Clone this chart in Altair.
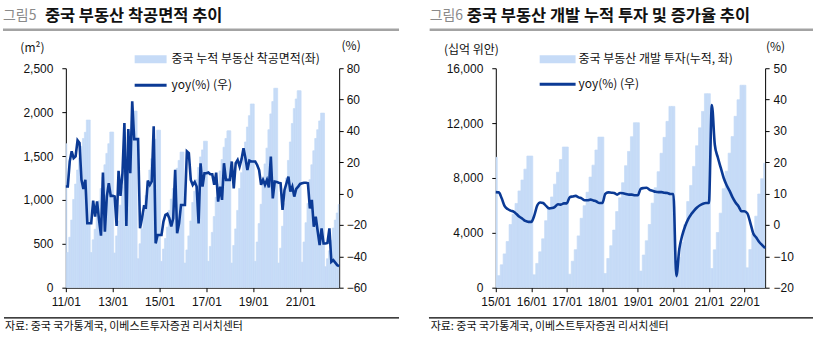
import json
import altair as alt
import pandas as pd

# ---------------- data ----------------
# Figure 5: cumulative new-construction area (m², left) and yoy % (right), monthly 2011-01 .. 2022-09
area_labels = ["11/01", "13/01", "15/01", "17/01", "19/01", "21/01"]
area_cum = [
    1640, 400, 575, 770, 1005, 1180, 1340, 1480, 1610, 1700, 1770, 1910,
    1910, 400, 545, 665, 820, 990, 1130, 1260, 1400, 1530, 1640, 1773,
    1773, 395, 590, 760, 940, 1150, 1330, 1490, 1640, 1780, 1900, 2012,
    2012, 330, 500, 670, 840, 1050, 1200, 1340, 1470, 1590, 1690, 1795,
    1795, 300, 440, 560, 690, 880, 1010, 1130, 1250, 1360, 1450, 1545,
    1545, 280, 430, 590, 760, 970, 1100, 1230, 1370, 1490, 1570, 1669,
    1669, 300, 470, 630, 810, 1030, 1180, 1330, 1460, 1600, 1700, 1787,
    1787, 280, 480, 670, 880, 1130, 1310, 1480, 1660, 1830, 1960, 2093,
    2093, 300, 520, 730, 950, 1220, 1410, 1590, 1800, 1980, 2120, 2272,
    2272, 280, 450, 700, 960, 1250, 1450, 1660, 1870, 2040, 2150, 2244,
    2244, 290, 520, 740, 960, 1230, 1400, 1560, 1700, 1800, 1900, 1989,
    1989, 240, 330, 420, 540, 680, 770, 851, 948,
]
area_yoy = [
    4.6, 4.6, 20.6, 27.0, 22.7, 23.8, 34.0, 32.3, 8.8, 2.9, 8.8, -18.9,
    -18.9, -18.9, -4.4, -14.6, -5.0, -16.8, -26.8, 13.5, -24.2, -1.8, 6.7, -1.4,
    -1.4, -1.8, -20.6, 14.6, -1.4, 13.1, 45.0, -20.6, 41.2, 13.1, 58.9, 34.8,
    34.8, 34.8, -22.1, -15.7, -8.2, -8.7, 8.4, 5.6, 7.8, 43.0, -31.7, -26.4,
    -26.4, -26.4, -17.8, -13.6, -12.9, -15.7, -21.0, -15.7, 15.2, -25.3, -18.9, -7.2,
    -7.2, -7.2, 27.0, 25.9, 8.8, 5.6, 7.5, 4.5, -19.0, 19.4, 4.5, 13.0,
    13.0, 13.5, 12.4, 12.4, 5.6, 13.4, -5.1, 4.5, -4.0, 19.4, 8.8, 8.8,
    8.8, 20.5, 3.4, 19.4, 21.5, 17.3, 22.0, 29.0, 22.6, 15.1, 21.1, 20.5,
    20.5, 20.5, 18.3, 15.0, 5.6, 8.8, 5.6, 8.8, 4.0, 23.7, -3.0, 7.7,
    7.5, 7.0, 6.6, -10.4, 2.4, 6.6, 10.9, 1.3, 4.5, -1.9, 3.0, 4.5,
    6.2, 6.6, 7.0, 7.0, 6.6, -9.4, -4.0, -21.1, -14.7, -24.0, -32.8, -22.2,
    -31.8, -31.8, -31.5, -22.2, -43.5, -42.4, -44.0, -45.6, -46.3,
]

# Figure 6: cumulative development investment (bn yuan, left) and yoy % (right), monthly 2015-01 .. 2022-08
inv_labels = ["15/01", "16/01", "17/01", "18/01", "19/01", "20/01", "21/01", "22/01"]
inv_cum = [
    9504, 879, 1666, 2466, 3366, 4601, 5358, 6142, 7054, 7848, 8643, 9598,
    9598, 939, 1768, 2613, 3563, 4883, 5739, 6615, 7551, 8418, 9339, 10258,
    10258, 985, 1929, 2773, 3778, 5061, 5976, 6959, 8064, 8933, 10039, 10980,
    10980, 1029, 2129, 3059, 4201, 5553, 6553, 7652, 8895, 9933, 11008, 12026,
    12026, 1209, 2380, 3422, 4608, 6161, 7284, 8459, 9801, 10960, 12127, 13219,
    13219, 1012, 2196, 3310, 4592, 6278, 7456, 8845, 10348, 11656, 12849, 14144,
    14144, 1399, 2758, 4024, 5432, 7218, 8490, 9806, 11015, 12493, 13702, 14760,
    14760, 1450, 2777, 3915, 5213, 6831, 7946, 9081,
]
inv_yoy = [
    10.5, 10.4, 8.5, 6.0, 5.1, 4.6, 4.3, 3.5, 2.6, 2.0, 1.3, 1.0,
    1.0, 3.0, 6.2, 7.2, 7.0, 6.1, 5.3, 5.4, 5.8, 6.6, 6.5, 6.9,
    6.9, 8.9, 9.1, 9.3, 8.8, 8.5, 7.9, 7.9, 8.1, 7.8, 7.5, 7.0,
    7.0, 9.9, 10.4, 10.3, 10.2, 9.7, 10.2, 10.1, 9.9, 9.7, 9.7, 9.5,
    9.5, 11.6, 11.8, 11.9, 11.2, 10.9, 10.6, 10.5, 10.5, 10.3, 10.2, 9.9,
    9.9, -16.3, -7.7, -3.3, -0.3, 1.9, 3.4, 4.6, 5.6, 6.3, 6.8, 7.0,
    7.0, 38.3, 25.6, 21.6, 18.3, 15.0, 12.7, 10.9, 8.8, 7.2, 6.0, 4.4,
    4.4, 3.7, 0.7, -2.7, -4.0, -5.4, -6.4, -7.4,
]

# ---------------- style ----------------
BAR = "#C6DBF7"
LINE = "#0B3A95"
NUM_FONT = "Liberation Sans Narrow, Arial Narrow, Liberation Sans, Arial, sans-serif"
KR_FONT = "Noto Sans CJK KR, Noto Sans, sans-serif"
H = 220


def one(s=""):
    return pd.DataFrame({"t": [s]})


def text(s, x, y, size, color="#111111", weight="normal", align="left"):
    return alt.Chart(one(s)).mark_text(
        align=align, baseline="middle", font=KR_FONT, fontSize=size,
        fontWeight=weight, color=color,
    ).encode(x=alt.value(x), y=alt.value(y), text="t:N")


def hrule(x1, x2, y, color, width):
    return alt.Chart(one()).mark_rule(color=color, strokeWidth=width).encode(
        x=alt.value(x1), x2=alt.value(x2), y=alt.value(y))


def box(x1, x2, y1, y2, color, opacity=1.0):
    return alt.Chart(one()).mark_rect(color=color, opacity=opacity).encode(
        x=alt.value(x1), x2=alt.value(x2), y=alt.value(y1), y2=alt.value(y2))


def panel(cum, yoy, labels, step, ymax, lticks, rdom, rticks, interp, lpad_right):
    n = len(cum)
    df = pd.DataFrame({"i": list(range(n)), "cum": cum, "yoy": yoy})
    df["lo"] = df["i"] - 0.5
    df["hi"] = df["i"] + 0.5
    xscale = alt.Scale(domain=[0, n - 1], nice=False, zero=False)
    xaxis = alt.Axis(
        values=[k * step for k in range(len(labels))],
        labelExpr=json.dumps(labels) + f"[round(datum.value/{step})]",
        title=None, labelPadding=5, labelFlush=False, labelOverlap=False,
    )
    bars = alt.Chart(df).mark_rect(fill=BAR, stroke=BAR, strokeWidth=0.7, clip=True).encode(
        x=alt.X("lo:Q", scale=xscale, axis=xaxis),
        x2="hi:Q",
        y=alt.Y("cum:Q", scale=alt.Scale(domain=[0, ymax], nice=False),
                axis=alt.Axis(values=lticks, format=",d", title=None, orient="left",
                              labelPadding=9)),
        y2=alt.datum(0),
    )
    line = alt.Chart(df).mark_line(color=LINE, strokeWidth=2.6, interpolate=interp).encode(
        x=alt.X("i:Q", scale=xscale, axis=xaxis),
        y=alt.Y("yoy:Q", scale=alt.Scale(domain=rdom, nice=False, zero=False),
                axis=alt.Axis(values=rticks, format="d", title=None, orient="right",
                              labelPadding=lpad_right)),
    )
    return bars, line


SRC = "자료: 중국 국가통계국, 이베스트투자증권 리서치센터"

# ---------------- left panel (그림5) ----------------
lb, ll = panel(area_cum, area_yoy, area_labels, 24, 2500,
               list(range(0, 2501, 500)), [-60, 80], list(range(-60, 81, 20)),
               "linear", 3)
left = alt.layer(
    lb, ll,
    box(-66, -65, -68, -67, "#ffffff", 0.0),
    text("그림5", -63, -52.5, 14, color="#8a8a8a"),
    text("중국 부동산 착공면적 추이", -21, -52.5, 16.5, weight="bold"),
    hrule(-63, 334, -38.5, "#a3a3a3", 2.5),
    text("(m²)", -33.5, -20, 12, align="center"),
    text("(%)", 286, -22, 12, align="center"),
    box(69, 101, -13, -5, BAR),
    text("중국 누적 부동산 착공면적(좌)", 106, -9, 12),
    hrule(69, 101, 17, LINE, 3),
    text("yoy(%) (우)", 106, 17, 12),
    hrule(-62, 334, 250.3, "#000000", 1.2),
    text(SRC, -61, 259.5, 11),
).resolve_scale(y="independent").properties(width=274, height=H)

# ---------------- right panel (그림6) ----------------
rb, rl = panel(inv_cum, inv_yoy, inv_labels, 12, 16000,
               list(range(0, 16001, 4000)), [-20, 50], list(range(-20, 51, 10)),
               "monotone", 4)
right = alt.layer(
    rb, rl,
    text("그림6", -66.3, -52.5, 14, color="#8a8a8a"),
    text("중국 부동산 개발 누적 투자 및 증가율 추이", -29, -52.5, 16.5, weight="bold"),
    hrule(-66.3, 318, -38.5, "#a3a3a3", 2.5),
    text("(십억 위안)", -24.5, -18, 12, align="center"),
    text("(%)", 280.5, -21, 12, align="center"),
    box(44, 80, -13, -5, BAR),
    text("중국 부동산 개발 투자(누적, 좌)", 83, -9, 12),
    hrule(44, 80, 16, LINE, 3),
    text("yoy(%) (우)", 83, 16, 12),
    hrule(-67, 318, 250.3, "#000000", 1.2),
    text(SRC, -65.3, 259.5, 11),
).resolve_scale(y="independent").properties(width=270, height=H)

chart = alt.hconcat(left, right, spacing=157, bounds="flush").properties(
    padding=0, background="white"
).configure_view(stroke=None).configure_axis(
    domainColor="#000000", tickColor="#000000", domainWidth=1, tickWidth=1,
    tickSize=4, labelColor="#111111", labelFont=NUM_FONT, labelFontSize=12,
    grid=False,
)

chart.save("out.html", embed_options={"renderer": "svg", "actions": False})
